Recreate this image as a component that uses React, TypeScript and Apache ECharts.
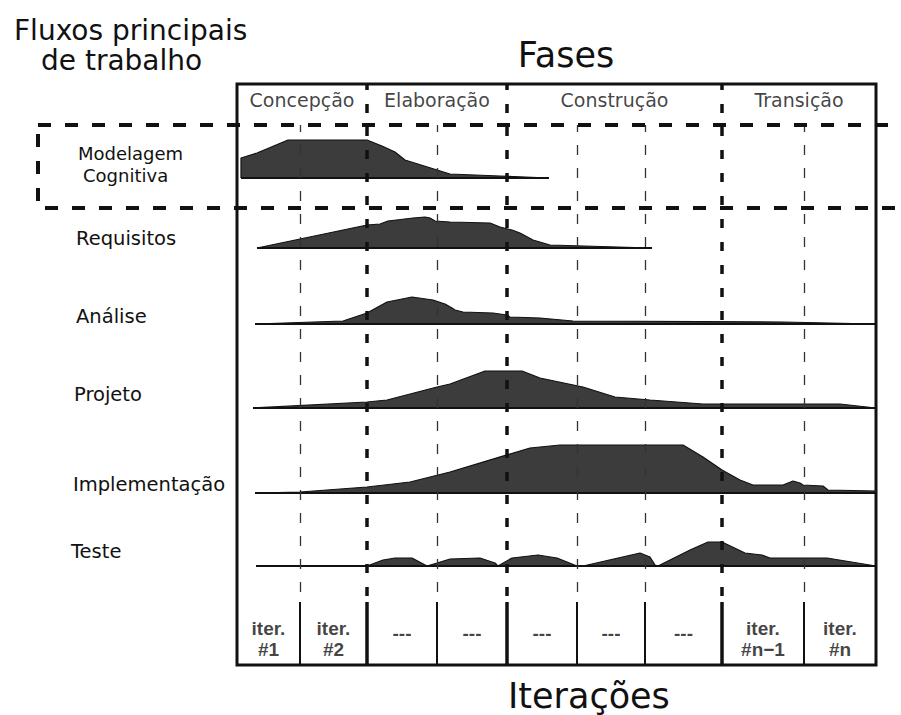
import React, { useEffect, useRef } from 'react';
import * as echarts from 'echarts';

// ---------- data ----------
const phases = ['Concepção', 'Elaboração', 'Construção', 'Transição'];
const phaseBounds = [0, 130, 270, 485, 639];
const iterBounds = [0, 63, 130, 200, 270, 340, 408, 485, 567, 639];
const iterLabels = ['iter.\n#1', 'iter.\n#2', '---', '---', '---', '---', '---', 'iter.\n#n\u22121', 'iter.\n#n'];

const workflows = ['Modelagem\nCognitiva', 'Requisitos', 'Análise', 'Projeto', 'Implementação', 'Teste'];

// [time, effort]
const modelagem = [[4, 0], [4, 20], [20, 25], [51, 38], [130, 38], [145, 32], [158, 26], [168, 18], [213, 4], [263, 2], [312, 0]];
const requisitos = [[20, 0], [130, 23], [143, 24], [151, 27], [176, 30], [188, 31], [193, 30], [198, 27], [213, 26], [253, 25], [263, 21], [275, 18], [283, 15], [296, 8], [313, 3], [415, 0]];
const analise = [[18, 0], [106, 3], [130, 11], [150, 22], [175, 27], [196, 24], [208, 20], [215, 16], [218, 14], [226, 12], [256, 11], [270, 9], [273, 7], [303, 6], [336, 3], [546, 2], [639, 0]];
const projeto = [[16, 0], [130, 6], [150, 8], [200, 21], [213, 24], [248, 37], [285, 37], [303, 30], [346, 21], [378, 11], [413, 8], [466, 4], [603, 4], [639, 0]];
const implementacao = [[18, 0], [63, 1], [130, 6], [173, 11], [213, 21], [293, 45], [323, 48], [446, 48], [466, 36], [485, 23], [503, 13], [516, 8], [546, 8], [556, 12], [563, 10], [566, 8], [586, 7], [591, 3], [639, 2]];
const teste = [[19, 0], [130, 0], [146, 6], [158, 8], [175, 8], [190, 0], [200, 3], [213, 7], [243, 8], [258, 3], [261, 0], [275, 8], [301, 11], [320, 8], [340, 0], [346, 0], [403, 13], [413, 9], [418, 1], [421, 0], [453, 16], [471, 24], [485, 24], [508, 13], [525, 11], [533, 8], [590, 8], [639, 0]];
const workflowData = [modelagem, requisitos, analise, projeto, implementacao, teste];

// ---------- layout ----------
const W = 901, H = 715;
const FL = 237, FW = 639, FT = 84, FB = 665;
const baselineY = [178, 248, 324, 408, 493, 566];
const WF_H = 50;
const labelPos = [
  [{ x: 78, y: 153 }, { x: 83, y: 175 }],
  [{ x: 76, y: 238 }],
  [{ x: 76, y: 316 }],
  [{ x: 74, y: 394 }],
  [{ x: 73, y: 484 }],
  [{ x: 71, y: 551 }],
];
const FONT = '"DejaVu Sans", Verdana, sans-serif';
const INK = '#111';

function buildOption() {
  const grids: any[] = [];
  const xAxes: any[] = [];
  const yAxes: any[] = [];
  const series: any[] = [];
  const addGrid = (top: number, height: number, ymax: number, extra: any = {}) => {
    const idx = grids.length;
    grids.push({ left: FL, top, width: FW, height, ...extra });
    xAxes.push({ gridIndex: idx, type: 'value', min: 0, max: 639, show: false });
    yAxes.push({ gridIndex: idx, type: 'value', min: 0, max: ymax, show: false });
    return idx;
  };

  addGrid(FT, FB - FT, 1, { show: true, borderColor: INK, borderWidth: 3, backgroundColor: 'transparent' });
  const gPhase = addGrid(FT, 512, 1);
  const gIter = addGrid(125, 467, 1);
  const gBottom = addGrid(602, FB - 602, 1);
  const gHeader = addGrid(FT, 36, 1);

  const inner = (b: number[]) => b.slice(1, -1);
  const phaseInner = inner(phaseBounds);
  const iterOnly = inner(iterBounds).filter((v) => !phaseInner.includes(v));

  const markSeries = (g: number, values: number[], lineStyle: any) => ({
    type: 'line', xAxisIndex: g, yAxisIndex: g, data: [], z: 20, silent: true,
    markLine: { symbol: ['none', 'none'], silent: true, animation: false, label: { show: false }, lineStyle, data: values.map((v) => ({ xAxis: v })) },
  });
  series.push(markSeries(gPhase, phaseInner, { color: INK, width: 3.5, type: [9, 14], opacity: 1 }));
  series.push(markSeries(gIter, iterOnly, { color: '#333', width: 1.3, type: [10, 13], opacity: 1 }));
  series.push(markSeries(gBottom, iterOnly, { color: INK, width: 2, type: 'solid', opacity: 1 }));
  series.push(markSeries(gBottom, phaseInner, { color: INK, width: 3.5, type: 'solid', opacity: 1 }));

  // phase labels
  series.push({
    type: 'scatter', xAxisIndex: gHeader, yAxisIndex: gHeader, symbolSize: 1, itemStyle: { color: 'rgba(0,0,0,0)' }, z: 30,
    data: phases.map((p, i) => [(phaseBounds[i] + phaseBounds[i + 1]) / 2, 0.55]),
    label: { show: true, position: 'inside', formatter: (p: any) => phases[p.dataIndex], fontFamily: FONT, fontSize: 19, color: INK },
  });
  // iteration labels
  series.push({
    type: 'scatter', xAxisIndex: gBottom, yAxisIndex: gBottom, symbolSize: 1, itemStyle: { color: 'rgba(0,0,0,0)' }, z: 30,
    data: iterLabels.map((l, i) => [(iterBounds[i] + iterBounds[i + 1]) / 2, l.includes('\n') ? 0.42 : 0.5]),
    label: { show: true, position: 'inside', formatter: (p: any) => iterLabels[p.dataIndex], fontFamily: '"Liberation Sans", Arial, sans-serif', fontWeight: 'bold', fontSize: 19, lineHeight: 21, color: INK },
  });

  workflowData.forEach((d, i) => {
    const g = addGrid(baselineY[i] - WF_H, WF_H, WF_H);
    series.push({
      type: 'line', name: workflows[i], xAxisIndex: g, yAxisIndex: g, data: d, showSymbol: false, clip: false, z: 3,
      lineStyle: { color: INK, width: 1.2 }, areaStyle: { color: '#3c3c3c', opacity: 1 },
    });
    series.push({
      type: 'line', xAxisIndex: g, yAxisIndex: g, data: [[d[0][0], 0], [d[d.length - 1][0], 0]], showSymbol: false, clip: false, z: 4,
      lineStyle: { color: INK, width: 2 },
    });
  });

  const texts: any[] = [];
  const txt = (text: string, x: number, y: number, size: number, align = 'left', weight = 'normal') =>
    texts.push({ type: 'text', x, y, z: 100, style: { text, font: `${weight} ${size}px ${FONT}`, fill: INK, textAlign: align, textVerticalAlign: 'middle' } });
  txt('Fluxos principais', 14, 30, 28);
  txt('de trabalho', 41, 60, 28);
  txt('Fases', 566, 55, 35, 'center');
  txt('Iterações', 508, 696, 35);
  workflows.forEach((w, i) => {
    w.split('\n').forEach((line, j) => txt(line, labelPos[i][j].x, labelPos[i][j].y, i === 0 ? 18 : 19.5));
  });

  return {
    animation: false,
    backgroundColor: '#fff',
    grid: grids,
    xAxis: xAxes,
    yAxis: yAxes,
    series,
    graphic: [
      ...texts,
      { type: 'rect', z: 90, shape: { x: 38, y: 125, width: 900, height: 83 }, style: { fill: 'none', stroke: INK, lineWidth: 4, lineDash: [13, 14] } },
    ],
  };
}

export default function App() {
  const ref = useRef<HTMLDivElement>(null);
  useEffect(() => {
    const chart = echarts.init(ref.current!, null, { renderer: 'svg', width: W, height: H });
    chart.setOption(buildOption() as any);
    return () => chart.dispose();
  }, []);
  return <div ref={ref} style={{ position: 'fixed', left: 0, top: 0, width: W, height: H, background: '#fff' }} />;
}
